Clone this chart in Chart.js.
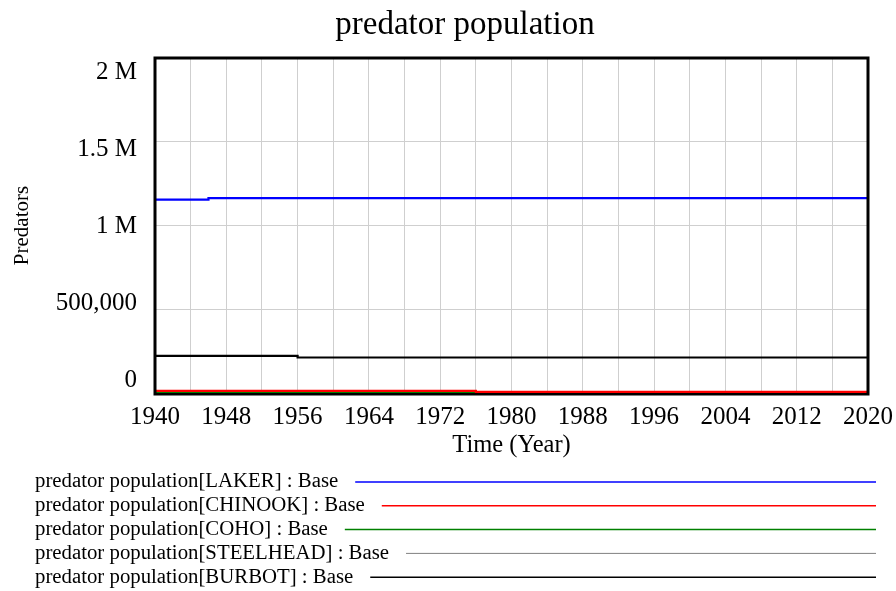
<!DOCTYPE html>
<html>
<head>
<meta charset="utf-8">
<script src="https://cdn.jsdelivr.net/npm/chart.js@4.4.0/dist/chart.umd.min.js"></script>
<style>
  html, body { margin: 0; padding: 0; background: #fff; }
  #wrap { width: 896px; height: 591px; }
</style>
</head>
<body>
<div id="wrap"><canvas id="chart" width="896" height="591"></canvas></div>
<script>
    // data (stepped series, value holds until next year)
    var years = [1940, 1946, 1956, 1961, 1976, 2020];
    var laker = [1154000, 1164000, 1164000, 1164000, 1164000, 1164000];
    var chinook = [13000, 13000, 13000, 13000, 7000, 7000];
    var coho = [0, 0, 0, 6000, 0, 0];
    var steelhead = [0, 0, 0, 0, 0, 0];
    var burbot = [222000, 222000, 212000, 212000, 212000, 212000];

    var yTicks = [0, 500000, 1000000, 1500000, 2000000];
    var yTickLabels = ['0', '500,000', '1 M', '1.5 M', '2 M'];

    var seriesNames = [
        'predator population[LAKER] : Base',
        'predator population[CHINOOK] : Base',
        'predator population[COHO] : Base',
        'predator population[STEELHEAD] : Base',
        'predator population[BURBOT] : Base'
    ];
    var seriesColors = ['#0000ff', '#ff0000', '#008000', '#808080', '#000000'];
    var seriesData = [laker, chinook, coho, steelhead, burbot];

    var serif = "'Liberation Serif', 'Times New Roman', serif";

    function toPoints(values) {
        return values.map(function (v, i) {
            return { x: years[i], y: v };
        });
    }

    var datasets = seriesData.map(function (values, i) {
        return {
            label: seriesNames[i],
            data: toPoints(values),
            borderColor: seriesColors[i],
            backgroundColor: seriesColors[i],
            borderWidth: i == 3 ? 1.5 : 2.2,
            pointRadius: 0,
            stepped: true,
            fill: false,
            clip: { left: 2, top: 2, right: 2, bottom: 0 }
        };
    });

    // 標題, 外框, y軸文字, 圖例
    var vensimLook = {
        id: 'vensimLook',
        afterDatasetsDraw: function (chart) {
            var ctx = chart.ctx;
            var a = chart.chartArea;
            ctx.save();
            ctx.strokeStyle = '#000';
            ctx.lineWidth = 3;
            ctx.beginPath();
            ctx.moveTo(a.left, a.bottom);
            ctx.lineTo(a.left, a.top);
            ctx.lineTo(a.right, a.top);
            ctx.lineTo(a.right, a.bottom);
            ctx.stroke();
            ctx.fillStyle = '#000';
            ctx.fillRect(a.left - 1.5, a.bottom, a.right - a.left + 3, 2.5);
            ctx.restore();
        },
        afterDraw: function (chart) {
            var ctx = chart.ctx;
            var a = chart.chartArea;
            var y = chart.scales.y;
            ctx.save();
            ctx.fillStyle = '#000';

            // title
            ctx.font = '33px ' + serif;
            ctx.textAlign = 'center';
            ctx.textBaseline = 'middle';
            ctx.fillText('predator population', 465, 25);

            // y tick labels, squeezed toward the middle like the original
            var mid = (a.top + a.bottom) / 2;
            ctx.font = '25px ' + serif;
            ctx.textAlign = 'right';
            yTicks.forEach(function (v, i) {
                var py = y.getPixelForValue(v);
                py = mid + (py - mid) * 0.92;
                ctx.fillText(yTickLabels[i], 137, py + 1);
            });

            // legend
            ctx.font = '20.8px ' + serif;
            ctx.textAlign = 'left';
            chart.data.datasets.forEach(function (ds, i) {
                var ly = 482 + i * 23.8;
                ctx.fillStyle = '#000';
                ctx.fillText(ds.label, 35, ly);
                var w = ctx.measureText(ds.label).width;
                ctx.strokeStyle = ds.borderColor;
                ctx.lineWidth = i == 3 ? 1 : 1.5;
                ctx.beginPath();
                ctx.moveTo(35 + w + 17, ly);
                ctx.lineTo(876, ly);
                ctx.stroke();
            });
            ctx.restore();
        }
    };

    window.onload = function () {
        var ctx = document.getElementById('chart').getContext('2d');
        window.myChart = new Chart(ctx, {
            type: 'line',
            data: { datasets: datasets },
            plugins: [vensimLook],
            options: {
                responsive: false,
                animation: false,
                layout: { padding: { top: 58, right: 28, bottom: 130, left: 0 } },
                plugins: {
                    legend: { display: false },
                    title: { display: false },
                    tooltip: { enabled: false }
                },
                scales: {
                    x: {
                        type: 'linear',
                        min: 1940,
                        max: 2020,
                        border: { display: false },
                        grid: { color: '#cfcfcf', lineWidth: 1, drawTicks: false },
                        ticks: {
                            stepSize: 4,
                            padding: 9,
                            color: '#000',
                            font: { family: serif, size: 25 },
                            maxRotation: 0,
                            autoSkip: false,
                            callback: function (v) {
                                return (v - 1940) % 8 == 0 ? String(v) : '';
                            }
                        },
                        title: {
                            display: true,
                            text: 'Time (Year)',
                            color: '#000',
                            font: { family: serif, size: 24.5 },
                            padding: { top: 0, bottom: 1 }
                        },
                        afterFit: function (scale) {
                            scale.height = 68;
                            scale.paddingLeft = 0;
                            scale.paddingRight = 0;
                        }
                    },
                    y: {
                        min: 0,
                        max: 2000000,
                        border: { display: false },
                        grid: { color: '#cfcfcf', lineWidth: 1, drawTicks: false },
                        ticks: { display: false, stepSize: 500000 },
                        title: {
                            display: true,
                            text: 'Predators',
                            color: '#000',
                            font: { family: serif, size: 21 },
                            padding: { top: 10, bottom: 0 }
                        },
                        afterFit: function (scale) { scale.width = 155; }
                    }
                }
            }
        });
    };
</script>
</body>
</html>
